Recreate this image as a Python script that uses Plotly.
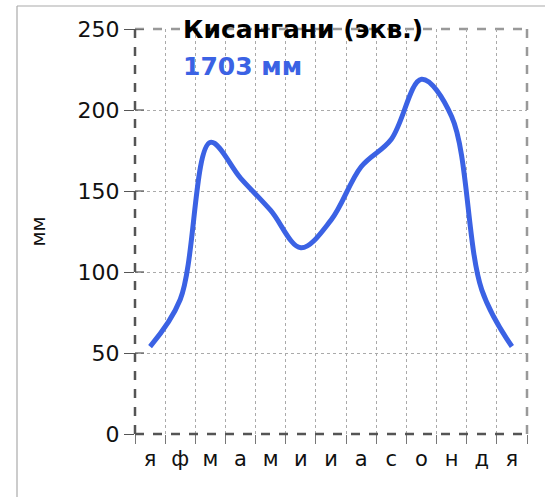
import plotly.graph_objects as go

months = ["я", "ф", "м", "а", "м", "и", "и", "а", "с", "о", "н", "д", "я"]
precip_mm = [54, 83, 180, 158, 138, 115, 132, 165, 182, 219, 196, 89, 54]
y_ticks = [0, 50, 100, 150, 200, 250]
title_text = "Кисангани (экв.)"
total_text = "1703 мм"
y_title = "мм"

W, H = 545, 497
L, R, T, B = 135, 18, 29, 63
pw = W - L - R
ph = H - T - B

def px_x(p):
    return (p - L) / pw

def px_y(p):
    return (H - B - p) / ph

xs = list(range(len(months)))

fig = go.Figure()
fig.add_trace(go.Scatter(
    x=xs, y=precip_mm, mode="lines",
    line=dict(color="#3b62e4", width=5, shape="spline", smoothing=1.0),
    hoverinfo="skip", showlegend=False,
))

font_main = "DejaVu Sans, Liberation Sans, Arial, sans-serif"

shapes = [
    # plot border: left & bottom darker, top & right lighter, all dashed
    dict(type="line", xref="paper", yref="paper", x0=0, x1=0, y0=0, y1=1,
         line=dict(color="#555", width=2.5, dash="dash")),
    dict(type="line", xref="paper", yref="paper", x0=0, x1=1, y0=0, y1=0,
         line=dict(color="#555", width=2.5, dash="dash")),
    dict(type="line", xref="paper", yref="paper", x0=0, x1=1, y0=1, y1=1,
         line=dict(color="#999", width=2.5, dash="dash"), layer="below"),
    dict(type="line", xref="paper", yref="paper", x0=1, x1=1, y0=0, y1=1,
         line=dict(color="#999", width=2.5, dash="dash")),
    # outer frame lines
    dict(type="line", xref="paper", yref="paper", x0=px_x(17), x1=px_x(W + 5),
         y0=px_y(6), y1=px_y(6), line=dict(color="#aaaaaa", width=1.2)),
    dict(type="line", xref="paper", yref="paper", x0=px_x(17), x1=px_x(17),
         y0=px_y(6), y1=px_y(H + 5), line=dict(color="#aaaaaa", width=1.2)),
]
# inner halves of the crossing y-axis tick marks
for v in y_ticks:
    shapes.append(dict(type="line", xref="paper", yref="y", x0=0, x1=9 / pw,
                       y0=v, y1=v, line=dict(color="#555", width=1.2)))

fig.update_layout(
    width=W, height=H,
    margin=dict(l=L, r=R, t=T, b=B),
    paper_bgcolor="white", plot_bgcolor="white",
    font=dict(family=font_main, color="black"),
    xaxis=dict(
        range=[-0.5, len(months) - 0.5],
        tickmode="array", tickvals=xs, ticktext=months,
        ticks="", showgrid=False, zeroline=False, showline=False,
        tickfont=dict(size=21, family=font_main, color="#111"),
        ticklabelstandoff=10,
        minor=dict(tick0=0.5, dtick=1, ticks="outside", ticklen=9, tickwidth=1,
                   tickcolor="#777", showgrid=True, gridcolor="#aaaaaa",
                   griddash="dot", gridwidth=1),
        fixedrange=True,
    ),
    yaxis=dict(
        range=[0, 250], tickmode="array", tickvals=y_ticks,
        ticks="outside", ticklen=10, tickwidth=1.2, tickcolor="#555",
        showgrid=True, gridcolor="#aaaaaa", griddash="dot", gridwidth=1,
        zeroline=False, showline=False,
        tickfont=dict(size=22, family=font_main, color="#111"),
        title=dict(text=y_title, font=dict(size=20, family=font_main, color="#111"), standoff=26),
        fixedrange=True,
    ),
    shapes=shapes,
    annotations=[
        dict(text="<b>" + title_text + "</b>", xref="paper", yref="paper",
             x=px_x(181), y=px_y(30), xanchor="left", yanchor="middle",
             showarrow=False, font=dict(size=25, family=font_main, color="black")),
        dict(text="<b>" + total_text + "</b>", xref="paper", yref="paper",
             x=px_x(181), y=px_y(66), xanchor="left", yanchor="middle",
             showarrow=False, font=dict(size=25, family=font_main, color="#3b62e4")),
    ],
)

fig.write_html("out.html", config={"displayModeBar": False},
               post_script="document.body.style.margin='0';document.body.style.padding='0';")
